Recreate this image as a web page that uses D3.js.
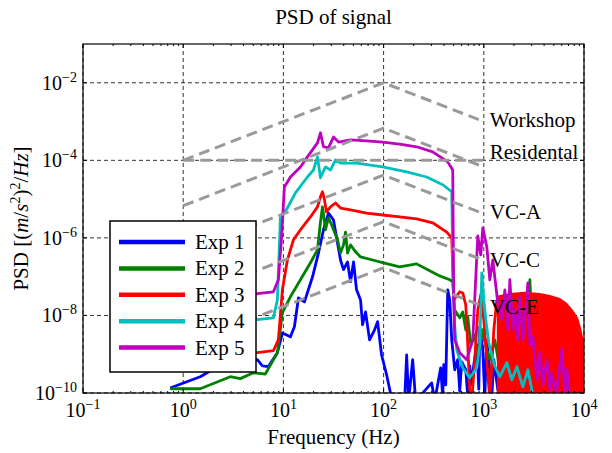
<!DOCTYPE html>
<html>
<head>
<meta charset="utf-8">
<script src="https://cdn.jsdelivr.net/npm/d3@7"></script>
<style>
  body { margin: 0; background: #fff; }
  svg { display: block; }
  text { font-family: "Liberation Serif", "Times New Roman", serif; fill: #000; }
</style>
</head>
<body>
<div id="chart"></div>
<script>
// values, kept as [log10 f (Hz), log10 PSD]
const exp1 = [[-0.13,-9.87],[0.17,-9.58],[0.29,-9.40],[0.52,-9.27],[0.74,-9.14],[0.79,-9.30],[0.85,-9.32],
  [0.94,-8.96],[0.99,-8.45],[1.07,-8.55],[1.11,-8.29],[1.15,-7.55],[1.21,-7.65],[1.29,-7.01],[1.35,-6.39],
  [1.40,-5.79],[1.45,-5.36],[1.50,-5.54],[1.54,-6.13],[1.57,-6.57],[1.60,-6.82],[1.64,-6.62],[1.67,-7.13],
  [1.70,-6.62],[1.73,-7.34],[1.77,-7.60],[1.79,-8.24],[1.82,-7.91],[1.86,-8.63],[1.91,-8.37],[1.94,-8.16],
  [1.98,-9.02],[2.03,-9.53],[2.07,-10.02],[2.21,-10.2],[2.23,-9.02],[2.25,-10.2],[2.29,-9.14],[2.32,-10.2],
  [2.48,-9.74],[2.51,-10.2],[2.57,-9.35],[2.59,-10.1],[2.60,-9.27],[2.62,-9.79],[2.64,-7.34],[2.66,-7.60],
  [2.68,-8.63],[2.71,-9.40],[2.74,-9.14],[2.76,-9.95],[2.78,-9.20],[2.82,-9.40],[2.84,-10.1],[2.86,-9.30],
  [2.88,-9.79],[2.90,-9.27],[2.93,-8.76],[2.95,-9.9],[2.96,-8.29],[2.99,-8.89],[3.01,-10.1],[3.03,-8.63],
  [3.06,-9.45],[3.08,-10.1],[3.10,-9.14],[3.14,-9.92],[3.18,-10.2]];

const exp2 = [[-0.13,-9.89],[0.17,-9.89],[0.47,-9.58],[0.57,-9.63],[0.70,-9.48],[0.82,-9.51],[0.94,-8.96],
  [0.99,-7.93],[1.07,-7.52],[1.17,-7.08],[1.27,-6.64],[1.34,-6.31],[1.37,-5.59],[1.39,-5.20],[1.42,-5.79],
  [1.45,-5.48],[1.49,-5.72],[1.54,-6.05],[1.57,-6.39],[1.60,-6.18],[1.62,-5.85],[1.64,-6.39],[1.67,-6.18],
  [1.72,-6.36],[1.77,-6.49],[1.89,-6.57],[1.99,-6.64],[2.16,-6.75],[2.33,-6.67],[2.46,-6.85],[2.56,-6.98],
  [2.66,-7.08],[2.69,-7.13],[2.71,-7.86],[2.76,-8.06],[2.79,-7.91],[2.82,-8.37],[2.84,-8.04],[2.87,-8.76],
  [2.91,-8.50],[2.94,-9.02],[2.99,-8.37],[3.03,-8.89],[3.06,-9.14],[3.11,-8.63],[3.16,-9.40],[3.21,-9.14],
  [3.26,-9.66],[3.34,-8.76],[3.38,-9.53],[3.46,-7.08],[3.48,-8.37],[3.52,-9.66],[3.56,-10.2]];

const exp3 = [[-0.13,-9.00],[0.74,-8.96],[0.90,-8.91],[0.95,-8.63],[0.99,-7.34],[1.04,-6.57],[1.10,-6.05],
  [1.19,-5.72],[1.27,-5.46],[1.34,-5.20],[1.37,-4.94],[1.39,-4.81],[1.41,-5.02],[1.43,-5.33],[1.47,-5.20],
  [1.52,-5.10],[1.57,-5.23],[1.67,-5.28],[1.83,-5.36],[1.99,-5.41],[2.16,-5.46],[2.33,-5.51],[2.49,-5.61],
  [2.63,-5.85],[2.68,-6.00],[2.70,-7.60],[2.73,-7.49],[2.76,-7.39],[2.79,-7.42],[2.82,-7.73],[2.84,-8.76],
  [2.86,-10.0],[2.88,-10.2],[2.91,-9.14],[2.94,-7.86],[2.97,-7.47],[3.00,-8.11],[3.03,-9.14],[3.06,-10.2],
  [3.10,-8.37],[3.13,-7.60]];
// dense high-frequency part of Exp 3: upper envelope of the solid red band
const exp3Band = [[3.13,-7.49],[3.26,-7.42],[3.41,-7.39],[3.56,-7.42],[3.66,-7.47],[3.76,-7.55],[3.83,-7.68],
  [3.89,-7.86],[3.94,-8.06],[3.97,-8.32],[4.0,-8.68]];

const exp4 = [[-0.13,-8.15],[0.74,-8.11],[0.90,-8.06],[0.94,-7.60],[0.97,-5.46],[1.04,-5.23],[1.12,-4.84],
  [1.24,-4.43],[1.30,-4.25],[1.34,-3.91],[1.37,-4.45],[1.42,-4.17],[1.47,-4.25],[1.52,-3.99],[1.57,-4.07],
  [1.73,-4.07],[1.99,-4.17],[2.23,-4.30],[2.43,-4.43],[2.59,-4.63],[2.68,-4.81],[2.69,-6.57],[2.71,-8.29],
  [2.73,-8.89],[2.79,-9.35],[2.86,-9.61],[2.93,-9.35],[2.96,-8.76],[2.98,-6.90],[3.00,-7.60],[3.02,-8.11],
  [3.05,-8.71],[3.11,-9.32],[3.16,-9.58],[3.23,-9.22],[3.28,-9.66],[3.33,-9.32],[3.39,-9.84],[3.44,-9.40],
  [3.49,-10.05]];

const exp5 = [[-0.13,-7.47],[0.74,-7.44],[0.90,-7.39],[0.95,-7.08],[0.98,-6.05],[1.01,-4.69],[1.07,-4.43],
  [1.17,-4.17],[1.24,-3.91],[1.29,-3.73],[1.34,-3.55],[1.37,-3.29],[1.40,-3.65],[1.45,-3.68],[1.50,-3.40],
  [1.55,-3.53],[1.67,-3.47],[1.83,-3.50],[1.99,-3.53],[2.16,-3.58],[2.33,-3.65],[2.49,-3.78],[2.64,-4.04],
  [2.69,-4.25],[2.70,-7.60],[2.71,-8.63],[2.76,-8.96],[2.83,-9.14],[2.89,-8.63],[2.94,-5.95],[2.97,-6.44],
  [2.99,-5.74],[3.03,-6.23],[3.06,-7.08],[3.09,-6.57],[3.14,-7.68],[3.18,-8.11],[3.21,-7.34],[3.24,-8.37],
  [3.26,-7.08],[3.29,-8.37],[3.31,-7.86],[3.34,-8.63],[3.36,-7.52],[3.39,-8.63],[3.41,-8.11],[3.44,-7.16],
  [3.46,-8.76],[3.49,-8.55],[3.53,-9.66],[3.56,-8.96],[3.59,-9.79],[3.63,-9.14],[3.66,-9.92],[3.68,-9.48],
  [3.72,-10.1],[3.78,-8.86],[3.81,-10.05],[3.83,-9.40],[3.86,-10.2]];

// vibration criteria (gray dashed), log10 f at 1, 100, 1000 Hz
const criteriaLogF = [0, 2, 3];
const workshopLogP = [-4, -2, -3];
const flatLogP = [-4, -4, -4];
const residentalLogP = [-5.17, -3.17, -4.17];
const vcALogP = [-6.38, -4.38, -5.38];
const vcCLogP = [-7.58, -5.58, -6.58];
const vcELogP = [-8.77, -6.77, -7.77];
const criteriaLabels = ['Workshop', 'Residental', 'VC-A', 'VC-C', 'VC-E'];
const criteriaLabelLogP = [-2.96, -3.78, -5.33, -6.57, -7.78];

const seriesNames = ['Exp 1', 'Exp 2', 'Exp 3', 'Exp 4', 'Exp 5'];
const seriesColors = ['#0000ff', '#008000', '#ff0000', '#00bfbf', '#bf00bf'];
const xTickExp = [-1, 0, 1, 2, 3, 4];
const yTickExp = [-10, -8, -6, -4, -2];

const box = {left: 83, right: 584, top: 44, bottom: 393};

const svg = d3.select('#chart').append('svg')
    .attr('width', 612)
    .attr('height', 453);

const xScale = d3.scaleLog().domain([1e-1, 1e4]).range([box.left, box.right]);
const yScale = d3.scaleLog().domain([1e-10, 1e-1]).range([box.bottom, box.top]);

svg.append('defs').append('clipPath').attr('id', 'plotClip')
    .append('rect')
    .attr('x', box.left).attr('y', box.top)
    .attr('width', box.right - box.left).attr('height', box.bottom - box.top);

// grid
svg.append('g').selectAll('line').data(xTickExp).join('line')
    .attr('x1', d => xScale(10 ** d)).attr('x2', d => xScale(10 ** d))
    .attr('y1', box.top).attr('y2', box.bottom)
    .attr('stroke', '#000').attr('stroke-width', 0.8).attr('stroke-dasharray', '4,3');
svg.append('g').selectAll('line').data(yTickExp).join('line')
    .attr('x1', box.left).attr('x2', box.right)
    .attr('y1', d => yScale(10 ** d)).attr('y2', d => yScale(10 ** d))
    .attr('stroke', '#000').attr('stroke-width', 0.8).attr('stroke-dasharray', '4,3');

// data
const plot = svg.append('g').attr('clip-path', 'url(#plotClip)');
const line = d3.line()
    .x(d => xScale(10 ** d[0]))
    .y(d => yScale(10 ** d[1]));

[exp1, exp2, exp3, exp4, exp5].forEach((data, i) => {
  if (i === 2) {
    plot.append('path')
        .datum(exp3Band)
        .attr('fill', seriesColors[2])
        .attr('d', d3.area()
            .x(d => xScale(10 ** d[0]))
            .y0(box.bottom + 5)
            .y1(d => yScale(10 ** d[1])));
  }
  plot.append('path')
      .datum(data)
      .attr('fill', 'none')
      .attr('stroke', seriesColors[i])
      .attr('stroke-width', 2.8)
      .attr('stroke-linejoin', 'round')
      .attr('d', line);
});

// criteria lines
[workshopLogP, flatLogP, residentalLogP, vcALogP, vcCLogP, vcELogP].forEach(vals => {
  plot.append('path')
      .datum(criteriaLogF.map((f, k) => [f, vals[k]]))
      .attr('fill', 'none')
      .attr('stroke', '#9a9a9a')
      .attr('stroke-width', 3)
      .attr('stroke-dasharray', '11,6')
      .attr('d', line);
});

svg.append('g').selectAll('text').data(criteriaLabels).join('text')
    .attr('x', xScale(1000) + 6)
    .attr('y', (d, i) => yScale(10 ** criteriaLabelLogP[i]) + 7)
    .attr('font-size', 21)
    .text(d => d);

// axes frame and ticks
svg.append('rect')
    .attr('x', box.left).attr('y', box.top)
    .attr('width', box.right - box.left).attr('height', box.bottom - box.top)
    .attr('fill', 'none').attr('stroke', '#000').attr('stroke-width', 1.2);

const xMinor = [];
for (let k = -1; k < 4; k++) for (let m = 2; m < 10; m++) xMinor.push(m * 10 ** k);

const ticks = svg.append('g').attr('stroke', '#000').attr('stroke-width', 1);
[box.bottom, box.top].forEach(yb => {
  const dir = yb === box.bottom ? -1 : 1;
  ticks.append('g').selectAll('line').data(xTickExp).join('line')
      .attr('x1', d => xScale(10 ** d)).attr('x2', d => xScale(10 ** d))
      .attr('y1', yb).attr('y2', yb + dir * 4);
  ticks.append('g').selectAll('line').data(xMinor).join('line')
      .attr('x1', d => xScale(d)).attr('x2', d => xScale(d))
      .attr('y1', yb).attr('y2', yb + dir * 2);
});
[box.left, box.right].forEach(xb => {
  const dir = xb === box.left ? 1 : -1;
  ticks.append('g').selectAll('line').data(yTickExp).join('line')
      .attr('x1', xb).attr('x2', xb + dir * 4)
      .attr('y1', d => yScale(10 ** d)).attr('y2', d => yScale(10 ** d));
});

// tick labels
const xLab = svg.append('g').selectAll('text').data(xTickExp).join('text')
    .attr('x', d => xScale(10 ** d))
    .attr('y', box.bottom + 24)
    .attr('text-anchor', 'middle')
    .attr('font-size', 20);
xLab.append('tspan').text('10');
xLab.append('tspan').attr('dy', -8).attr('font-size', 14).text(d => String(d).replace('-', '\u2212'));

const yLab = svg.append('g').selectAll('text').data(yTickExp).join('text')
    .attr('x', box.left - 6)
    .attr('y', d => yScale(10 ** d) + 7)
    .attr('text-anchor', 'end')
    .attr('font-size', 20);
yLab.append('tspan').text('10');
yLab.append('tspan').attr('dy', -8).attr('font-size', 14).text(d => String(d).replace('-', '\u2212'));

// title and axis labels
svg.append('text')
    .attr('x', (box.left + box.right) / 2).attr('y', 24)
    .attr('text-anchor', 'middle').attr('font-size', 21)
    .text('PSD of signal');

svg.append('text')
    .attr('x', (box.left + box.right) / 2).attr('y', 444)
    .attr('text-anchor', 'middle').attr('font-size', 21)
    .text('Frequency (Hz)');

const yTitle = svg.append('text')
    .attr('transform', `translate(28, ${(box.top + box.bottom) / 2}) rotate(-90)`)
    .attr('text-anchor', 'middle').attr('font-size', 21);
yTitle.append('tspan').text('PSD [(');
yTitle.append('tspan').attr('font-style', 'italic').text('m');
yTitle.append('tspan').text('/');
yTitle.append('tspan').attr('font-style', 'italic').text('s');
yTitle.append('tspan').attr('dy', -8).attr('font-size', 14).text('2');
yTitle.append('tspan').attr('dy', 8).text(')');
yTitle.append('tspan').attr('dy', -8).attr('font-size', 14).text('2');
yTitle.append('tspan').attr('dy', 8).text('/');
yTitle.append('tspan').attr('font-style', 'italic').text('Hz');
yTitle.append('tspan').text(']');

// legend
const legend = svg.append('g');
legend.append('rect')
    .attr('x', 110).attr('y', 221).attr('width', 146).attr('height', 151)
    .attr('fill', '#fff').attr('stroke', '#000').attr('stroke-width', 1.5);
const rows = legend.selectAll('g.row').data(seriesNames).join('g')
    .attr('transform', (d, i) => `translate(0, ${242 + i * 26.4})`);
rows.append('line')
    .attr('x1', 119).attr('x2', 185)
    .attr('stroke', (d, i) => seriesColors[i]).attr('stroke-width', 4.5);
rows.append('text')
    .attr('x', 195).attr('y', 7).attr('font-size', 21)
    .text(d => d);
</script>
</body>
</html>
